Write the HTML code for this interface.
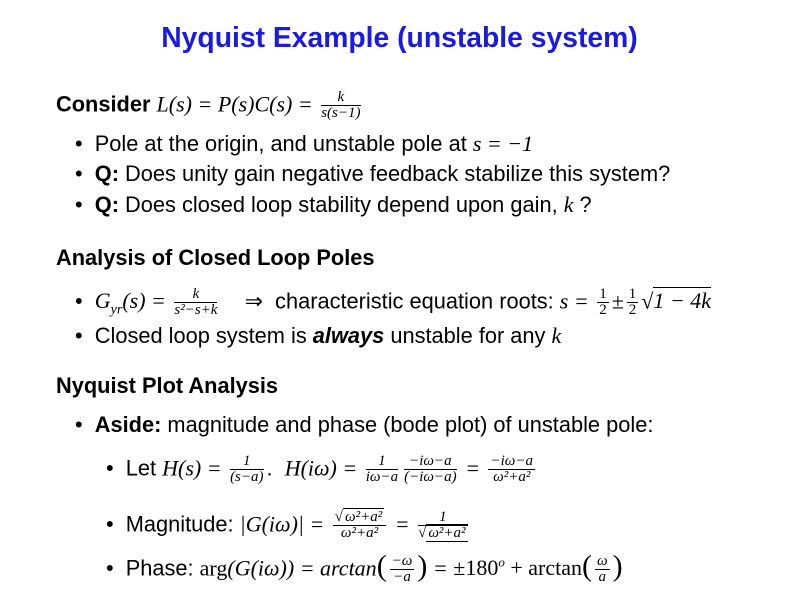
<!DOCTYPE html>
<html><head><meta charset="utf-8"><style>
body{margin:0;width:799px;height:599px;background:#fff;position:relative;overflow:hidden;font-family:"Liberation Sans",sans-serif;color:#000}
.l{position:absolute;font-size:21.8px;line-height:24px;white-space:nowrap}
.m{font-family:"Liberation Serif","DejaVu Serif",serif;font-style:italic;font-size:22px}
.r{font-family:"Liberation Serif","DejaVu Serif",serif;font-style:normal}
.f{display:inline-flex;flex-direction:column;vertical-align:middle;text-align:center;font-family:"Liberation Serif",serif;font-style:italic;font-size:15px;line-height:15px;margin:0 3px}
.f span:first-child{border-bottom:1px solid #000;padding:0 2px}
.h{font-weight:bold}
</style></head><body>
<div class="l" style="top:21px;left:0;width:799px;text-align:center;color:#1a1ae6;font-weight:bold;font-size:28.3px;line-height:32px">Nyquist Example (unstable system)</div>
<div class="l" style="top:90px;left:56px"><b>Consider</b> <span class="m">L(s) = P(s)C(s) = </span><span class="f"><span>k</span><span>s(s−1)</span></span></div>
<div class="l" style="top:132px;left:75px">• &nbsp;Pole at the origin, and unstable pole at <span class="m">s = −1</span></div>
<div class="l" style="top:162px;left:75px">• &nbsp;<b>Q:</b> Does unity gain negative feedback stabilize this system?</div>
<div class="l" style="top:193px;left:75px">• &nbsp;<b>Q:</b> Does closed loop stability depend upon gain, <span class="m">k</span> ?</div>
<div class="l h" style="top:246px;left:56px">Analysis of Closed Loop Poles</div>
<div class="l" style="top:287px;left:75px">• &nbsp;<span class="m">G<sub style="font-size:14px">yr</sub>(s) = </span><span class="f"><span>k</span><span>s²−s+k</span></span> &nbsp; &nbsp;⇒ &nbsp;characteristic equation roots: <span class="m">s = </span><span class="f" style="font-style:normal"><span>1</span><span>2</span></span><span class="m">±</span><span class="f" style="font-style:normal"><span>1</span><span>2</span></span><span class="m">√<span style="border-top:1px solid #000">1 − 4k</span></span></div>
<div class="l" style="top:324px;left:75px">• &nbsp;Closed loop system is <b><i>always</i></b> unstable for any <span class="m">k</span></div>
<div class="l h" style="top:374px;left:56px">Nyquist Plot Analysis</div>
<div class="l" style="top:413px;left:75px">• &nbsp;<b>Aside:</b> magnitude and phase (bode plot) of unstable pole:</div>
<div class="l" style="top:454px;left:106px">• &nbsp;Let <span class="m">H(s) = </span><span class="f"><span>1</span><span>(s−a)</span></span>. &nbsp;<span class="m">H(iω) = </span><span class="f"><span>1</span><span>iω−a</span></span><span class="f"><span>−iω−a</span><span>(−iω−a)</span></span><span class="m"> = </span><span class="f"><span>−iω−a</span><span>ω²+a²</span></span></div>
<div class="l" style="top:510px;left:106px">• &nbsp;Magnitude: <span class="m">|G(iω)| = </span><span class="f"><span>√<span style="border-top:1px solid #000">ω²+a²</span></span><span>ω²+a²</span></span><span class="m"> = </span><span class="f"><span>1</span><span>√<span style="border-top:1px solid #000">ω²+a²</span></span></span></div>
<div class="l" style="top:551px;left:106px">• &nbsp;Phase: <span class="m"><span class="r">arg</span>(G(iω)) = arctan</span><span class="m" style="font-size:30px;font-style:normal">(</span><span class="f"><span>−ω</span><span>−a</span></span><span class="m" style="font-size:30px;font-style:normal">)</span><span class="m"> = <span class="r">±180<sup style="font-size:13px"><i>o</i></sup> + arctan</span></span><span class="m" style="font-size:30px;font-style:normal">(</span><span class="f"><span>ω</span><span>a</span></span><span class="m" style="font-size:30px;font-style:normal">)</span></div>
</body></html>
